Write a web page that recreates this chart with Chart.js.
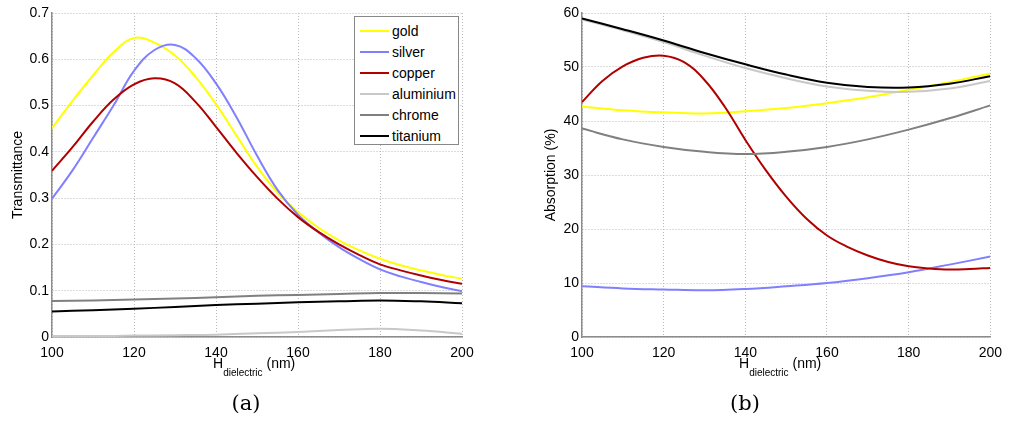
<!DOCTYPE html>
<html>
<head>
<meta charset="utf-8">
<script src="https://cdn.jsdelivr.net/npm/chart.js@4.4.0/dist/chart.umd.min.js"></script>
<style>
  body { margin: 0; background: #fff; width: 1010px; height: 424px; position: relative; overflow: hidden; font-family: "Liberation Sans", Arial, sans-serif; }
  canvas { position: absolute; top: 0; }
  #graficoA { left: 0; }
  #graficoB { left: 505px; }
  .xtitulo { position: absolute; font-size: 14px; line-height: 16px; white-space: nowrap; color: #000; }
  .xtitulo sub { font-size: 10px; vertical-align: -8px; line-height: 0; }
  .caption { position: absolute; font-family: "DejaVu Serif", "Liberation Serif", serif; font-size: 21px; width: 60px; text-align: center; }
  #leyenda { position: absolute; left: 354px; top: 16px; width: 105px; height: 129px; border: 1px solid #888; background: #fff; box-sizing: border-box; }
  .fila { position: absolute; left: 0; height: 16px; font-size: 14px; line-height: 16px; }
  .fila span.linea { position: absolute; left: 5px; top: 7px; width: 29px; height: 2px; }
  .fila span.txt { position: absolute; left: 37px; top: 0; white-space: nowrap; }
</style>
</head>
<body>
<canvas id="graficoA" width="505" height="424"></canvas>
<canvas id="graficoB" width="505" height="424"></canvas>

<div class="xtitulo" style="left:213px; top:355px;">H<sub>dielectric</sub> <span>(nm)</span></div>
<div class="xtitulo" style="left:739px; top:355px;">H<sub>dielectric</sub> <span>(nm)</span></div>
<div class="caption" style="left:216px; top:391px;">(a)</div>
<div class="caption" style="left:715px; top:391px;">(b)</div>
<div id="leyenda"></div>

<script>
// nombres y colores de las series
const nombres = ['gold', 'silver', 'copper', 'aluminium', 'chrome', 'titanium'];
const colores = ['#ffff00', '#8080ff', '#b00000', '#c8c8c8', '#808080', '#000000'];

// espesor del dielectrico (nm)
const xFino = [100, 105, 110, 115, 120, 125, 130, 135, 140, 145, 150, 155, 160, 165, 170, 175, 180, 185, 190, 195, 200];
const xGrueso = [100, 110, 120, 130, 140, 150, 160, 170, 180, 190, 200];

// (a) transmitancia
const transGold = [0.451, 0.51, 0.565, 0.615, 0.646, 0.636, 0.608, 0.562, 0.503, 0.435, 0.368, 0.312, 0.27, 0.236, 0.209, 0.187, 0.169, 0.155, 0.144, 0.134, 0.126];
const transSilver = [0.299, 0.36, 0.43, 0.50, 0.575, 0.62, 0.631, 0.603, 0.548, 0.475, 0.392, 0.318, 0.264, 0.226, 0.194, 0.168, 0.146, 0.131, 0.119, 0.108, 0.099];
const transCopper = [0.359, 0.41, 0.465, 0.513, 0.546, 0.559, 0.548, 0.508, 0.454, 0.398, 0.346, 0.299, 0.259, 0.227, 0.200, 0.177, 0.157, 0.144, 0.133, 0.123, 0.115];
const transAluminium = [0.002, 0.002, 0.003, 0.004, 0.005, 0.008, 0.011, 0.015, 0.018, 0.014, 0.007];
const transChrome = [0.078, 0.079, 0.081, 0.083, 0.086, 0.089, 0.091, 0.093, 0.095, 0.095, 0.094];
const transTitanium = [0.055, 0.058, 0.061, 0.065, 0.069, 0.072, 0.075, 0.077, 0.079, 0.077, 0.073];

// (b) absorcion (%)
const absGold = [42.7, 42.0, 41.6, 41.4, 41.8, 42.4, 43.3, 44.4, 45.8, 47.2, 48.8];
const absSilver = [9.4, 9.0, 8.8, 8.65, 8.9, 9.4, 10.0, 10.9, 12.0, 13.4, 14.9];
const absCopper = [43.5, 47.4, 50.1, 51.7, 52.1, 50.9, 47.6, 42.6, 36.5, 30.9, 26.0, 21.9, 18.8, 16.7, 15.1, 13.9, 13.1, 12.7, 12.5, 12.6, 12.8];
const absAluminium = [58.8, 56.8, 54.6, 52.1, 49.8, 47.9, 46.4, 45.6, 45.4, 46.0, 47.4];
const absChrome = [38.6, 36.6, 35.2, 34.3, 33.9, 34.3, 35.2, 36.6, 38.4, 40.5, 42.9];
const absTitanium = [59.0, 57.0, 54.9, 52.6, 50.5, 48.6, 47.1, 46.3, 46.2, 46.9, 48.3];

// etiquetas de los ejes
const xTicks = ['100', '120', '140', '160', '180', '200'];
const yTicksA = ['0', '0.1', '0.2', '0.3', '0.4', '0.5', '0.6', '0.7'];
const yTicksB = ['0', '10', '20', '30', '40', '50', '60'];

Chart.defaults.font.family = '"Liberation Sans", Arial, sans-serif';
Chart.defaults.font.size = 14;
Chart.defaults.color = '#000';

function puntos(xs, ys) {
    return xs.map((x, i) => ({ x: x, y: ys[i] }));
}

function series(lista) {
    return lista.map((s, i) => ({
        label: nombres[i],
        data: puntos(s[0], s[1]),
        borderColor: colores[i],
        borderWidth: 2,
        pointRadius: 0,
        tension: 0.4,
        fill: false,
        order: nombres.length - i   // matlab dibuja el ultimo arriba
    }));
}

function opciones(yMax, yStep, yLabels, yTitulo, anchoY, tituloPad, padIzq, padDer) {
    const rejilla = { color: '#b8b8b8', lineWidth: 1, drawTicks: false };
    const borde = { color: '#8c8c8c', width: 1.5, dash: [1, 2] };
    return {
        responsive: false,
        animation: false,
        layout: { padding: { left: padIzq, right: padDer, top: 13, bottom: 0 } },
        plugins: { legend: { display: false }, tooltip: { enabled: false } },
        scales: {
            x: {
                type: 'linear', min: 100, max: 200,
                grid: rejilla, border: borde,
                ticks: { stepSize: 20, padding: 8, maxRotation: 0,
                    callback: (v) => xTicks[Math.round((v - 100) / 20)] },
                afterFit: (s) => { s.height = 87; }
            },
            y: {
                min: 0, max: yMax,
                grid: rejilla, border: borde,
                ticks: { stepSize: yStep, padding: 3,
                    callback: (v) => yLabels[Math.round(v / yStep)] },
                title: { display: true, text: yTitulo, font: { size: 14 }, padding: { top: tituloPad, bottom: 0 } },
                afterFit: (s) => { s.width = anchoY; }
            }
        }
    };
}

new Chart(document.getElementById('graficoA'), {
    type: 'line',
    data: { datasets: series([
        [xFino, transGold], [xFino, transSilver], [xFino, transCopper],
        [xGrueso, transAluminium], [xGrueso, transChrome], [xGrueso, transTitanium]
    ]) },
    options: opciones(0.7, 0.1, yTicksA, 'Transmittance', 52, 10, 0, 43)
});

new Chart(document.getElementById('graficoB'), {
    type: 'line',
    data: { datasets: series([
        [xGrueso, absGold], [xGrueso, absSilver], [xFino, absCopper],
        [xGrueso, absAluminium], [xGrueso, absChrome], [xGrueso, absTitanium]
    ]) },
    options: opciones(60, 10, yTicksB, 'Absorption (%)', 77, 38, 0, 18)
});

// leyenda dentro del grafico (a)
let leyenda = document.getElementById('leyenda');
nombres.forEach((n, i) => {
    leyenda.innerHTML += `
        <div class="fila" style="top:${6 + i * 21}px">
            <span class="linea" style="background:${colores[i]}"></span>
            <span class="txt">${n}</span>
        </div>`;
});
</script>
</body>
</html>
